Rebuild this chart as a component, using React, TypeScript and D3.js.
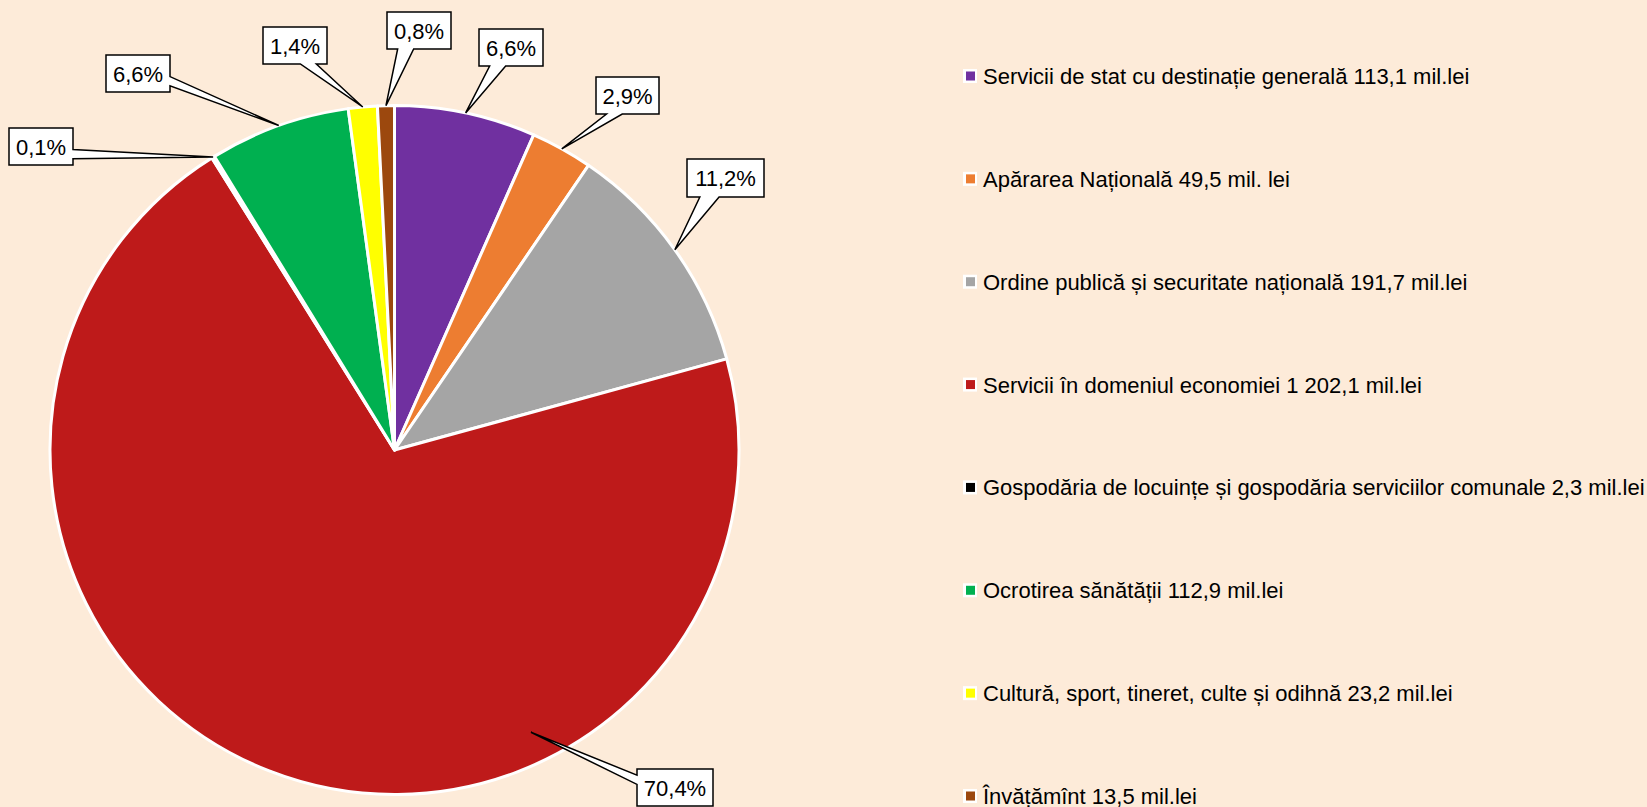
import React from "react";
import * as d3 from "d3";

const categories = [
  "Servicii de stat cu destinație generală",
  "Apărarea Națională",
  "Ordine publică și securitate națională",
  "Servicii în domeniul economiei",
  "Gospodăria de locuințe și gospodăria serviciilor comunale",
  "Ocrotirea sănătății",
  "Cultură, sport, tineret, culte și odihnă",
  "Învățămînt",
];
const values = [113.1, 49.5, 191.7, 1202.1, 2.3, 112.9, 23.2, 13.5];
const valueLabels = [
  "113,1 mil.lei",
  "49,5 mil. lei",
  "191,7 mil.lei",
  "1 202,1 mil.lei",
  "2,3 mil.lei",
  "112,9 mil.lei",
  "23,2 mil.lei",
  "13,5 mil.lei",
];
const colors = ["#7030A0", "#ED7D31", "#A5A5A5", "#BE1A1A", "#000000", "#00B050", "#FFFF00", "#9C480E"];

// callout boxes (left, top, width, height) – placement only
const calloutBoxes = [
  [479, 29, 64, 37],
  [596, 77, 63, 37],
  [687, 159, 77, 38],
  [637, 769, 76, 37],
  [9, 128, 64, 37],
  [106, 55, 64, 37],
  [263, 27, 64, 37],
  [387, 12, 64, 37],
];
// the big slice has its callout anchored inside the pie
const tipOverride: Record<number, { angle: number; k: number }> = {
  3: { angle: 154.2, k: 0.91 },
};

const W = 1647;
const H = 807;
const cx = 394.5;
const cy = 450;
const R = 344.5;
const bg = "#FDEBD9";
const font = "'Liberation Sans', Arial, sans-serif";

function calloutPath(x: number, y: number, w: number, h: number, tx: number, ty: number) {
  const hc = x + w / 2;
  const vc = y + h / 2;
  const dx = tx - hc;
  const dy = ty - vc;
  const dq = (dx * h) / w;
  const dz = Math.abs(dy) - Math.abs(dq);
  if (dz > 0) {
    const x1 = x + (w * (dx > 0 ? 7 : 2)) / 12;
    const x2 = x + (w * (dx > 0 ? 10 : 5)) / 12;
    if (dy > 0) {
      return `M${x},${y}L${x + w},${y}L${x + w},${y + h}L${x2},${y + h}L${tx},${ty}L${x1},${y + h}L${x},${y + h}Z`;
    }
    return `M${x},${y}L${x1},${y}L${tx},${ty}L${x2},${y}L${x + w},${y}L${x + w},${y + h}L${x},${y + h}Z`;
  }
  const y1 = y + (h * (dy > 0 ? 7 : 2)) / 12;
  const y2 = y + (h * (dy > 0 ? 10 : 5)) / 12;
  if (dx > 0) {
    return `M${x},${y}L${x + w},${y}L${x + w},${y1}L${tx},${ty}L${x + w},${y2}L${x + w},${y + h}L${x},${y + h}Z`;
  }
  return `M${x},${y}L${x + w},${y}L${x + w},${y + h}L${x},${y + h}L${x},${y2}L${tx},${ty}L${x},${y1}Z`;
}

export default function App() {
  const total = d3.sum(values);
  const pie = d3.pie<number>().sort(null).value((d) => d);
  const arcs = pie(values);
  const arc = d3.arc<d3.PieArcDatum<number>>().innerRadius(0).outerRadius(R);
  const edge = d3.arc<d3.PieArcDatum<number>>().innerRadius(R).outerRadius(R);
  const fmt = d3.format(".1f");
  const pct = (v: number) => fmt((v / total) * 100).replace(".", ",") + "%";

  const legendY = d3.scalePoint<number>().domain(d3.range(categories.length)).range([76, 796]);

  return (
    <svg
      width={W}
      height={H}
      style={{ position: "absolute", left: 0, top: 0, display: "block" }}
      fontFamily={font}
    >
      <rect width={W} height={H} fill={bg} />
      <g transform={`translate(${cx},${cy})`}>
        {arcs.map((a, i) => (
          <path key={i} d={arc(a) || ""} fill={colors[i]} stroke="#fff" strokeWidth={3} strokeLinejoin="round" />
        ))}
      </g>

      {arcs.map((a, i) => {
        const [bx, by, bw, bh] = calloutBoxes[i];
        let tx: number;
        let ty: number;
        const o = tipOverride[i];
        if (o) {
          const t = (o.angle * Math.PI) / 180;
          tx = cx + Math.sin(t) * R * o.k;
          ty = cy - Math.cos(t) * R * o.k;
        } else {
          const [px, py] = edge.centroid(a);
          tx = cx + px;
          ty = cy + py;
        }
        return (
          <g key={i}>
            <path d={calloutPath(bx, by, bw, bh, tx, ty)} fill="#fff" stroke="#000" strokeWidth={1.5} strokeLinejoin="miter" />
            <text x={bx + bw / 2} y={by + bh / 2 + 8} textAnchor="middle" fontSize={22} fill="#000">
              {pct(values[i])}
            </text>
          </g>
        );
      })}

      {categories.map((c, i) => {
        const y = legendY(i) as number;
        return (
          <g key={i}>
            <rect x={963} y={y - 7} width={14} height={14} fill="#fff" />
            <rect x={966} y={y - 4.5} width={9} height={9} fill={colors[i]} />
            <text x={983} y={y + 8} fontSize={22} fill="#000">
              {`${c} ${valueLabels[i]}`}
            </text>
          </g>
        );
      })}
    </svg>
  );
}
